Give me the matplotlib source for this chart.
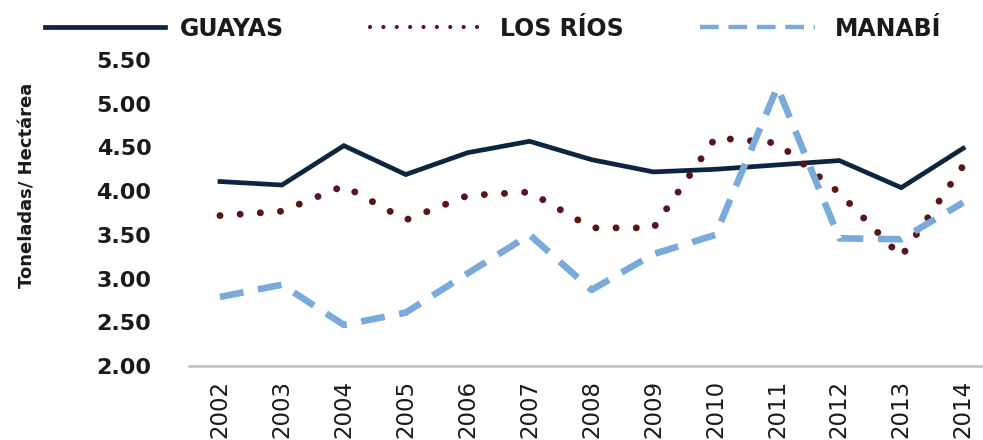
import matplotlib
matplotlib.use("Agg")
import matplotlib.pyplot as plt
from matplotlib.lines import Line2D

years = ["2002", "2003", "2004", "2005", "2006", "2007", "2008",
         "2009", "2010", "2011", "2012", "2013", "2014"]
guayas = [4.11, 4.07, 4.52, 4.19, 4.44, 4.57, 4.36, 4.22, 4.25, 4.30, 4.35, 4.04, 4.49]
los_rios = [3.72, 3.77, 4.06, 3.67, 3.95, 3.99, 3.58, 3.58, 4.61, 4.55, 3.98, 3.25, 4.29]
manabi = [2.79, 2.93, 2.47, 2.61, 3.06, 3.50, 2.87, 3.28, 3.50, 5.19, 3.46, 3.45, 3.87]
yticks = [2.00, 2.50, 3.00, 3.50, 4.00, 4.50, 5.00, 5.50]
series_names = ["GUAYAS", "LOS RÍOS", "MANABÍ"]

W, H = 983, 440
fig = plt.figure(figsize=(W / 100, H / 100), dpi=100)
ax = fig.add_axes([189 / W, 1 - 366 / H, (983 - 189) / W, (366 - 60) / H])

c_g = "#0e2541"
c_r = "#5a1518"
c_m = "#7aaad9"

st_g = dict(color=c_g, lw=3.4, solid_joinstyle="miter")
st_r = dict(color=c_r, lw=5.0, linestyle=(0, (0.01, 2.9)), dash_capstyle="round")
st_m = dict(color=c_m, lw=4.8, linestyle=(0, (3.6, 2.2)), dash_capstyle="butt")

x = list(range(len(years)))
ax.plot(x, guayas, **st_g)
ax.plot(x, los_rios, **st_r)
ax.plot(x, manabi, **st_m)

ax.set_xlim(-0.5, 12.32)
ax.set_ylim(2.0, 5.5)
ax.set_yticks(yticks)
ax.set_yticklabels([f"{v:.2f}" for v in yticks], fontsize=16,
                   fontweight="bold", color="#1a1a1a", family="DejaVu Sans")
ax.set_xticks(x)
ax.set_xticklabels(years, rotation=90, fontsize=16.5, color="#1a1a1a",
                   family="DejaVu Sans", va="top")
ax.tick_params(axis="y", length=0, pad=27)
ax.tick_params(axis="x", length=0, pad=10)
for s in ["top", "right", "left"]:
    ax.spines[s].set_visible(False)
ax.spines["bottom"].set_color("#bfbfbf")
ax.spines["bottom"].set_linewidth(1.8)

fig.text(28 / W, 1 - 185 / H, "Toneladas/ Hectárea", rotation=90,
         ha="center", va="center", fontsize=13, fontweight="bold",
         color="#1a1a1a", family="DejaVu Sans")

# legend drawn manually at the reference positions
ly = 1 - 27 / H
leg_items = [
    (series_names[0], 45, 165, 180, dict(color=c_g, lw=3.4)),
    (series_names[1], 370, 490, 500, dict(color=c_r, lw=3.0,
                                          linestyle=(0, (0.01, 3.2)),
                                          dash_capstyle="round")),
    (series_names[2], 700, 815, 835, dict(color=c_m, lw=3.2,
                                          linestyle=(0, (4.2, 2.2)))),
]
for name, x0, x1, tx, st in leg_items:
    fig.add_artist(Line2D([x0 / W, x1 / W], [ly, ly],
                          transform=fig.transFigure, **st))
    fig.text(tx / W, ly, name, ha="left", va="center_baseline", fontsize=17,
             fontweight="bold", color="#1a1a1a", family="DejaVu Sans")

fig.savefig("out.png", dpi=100)
